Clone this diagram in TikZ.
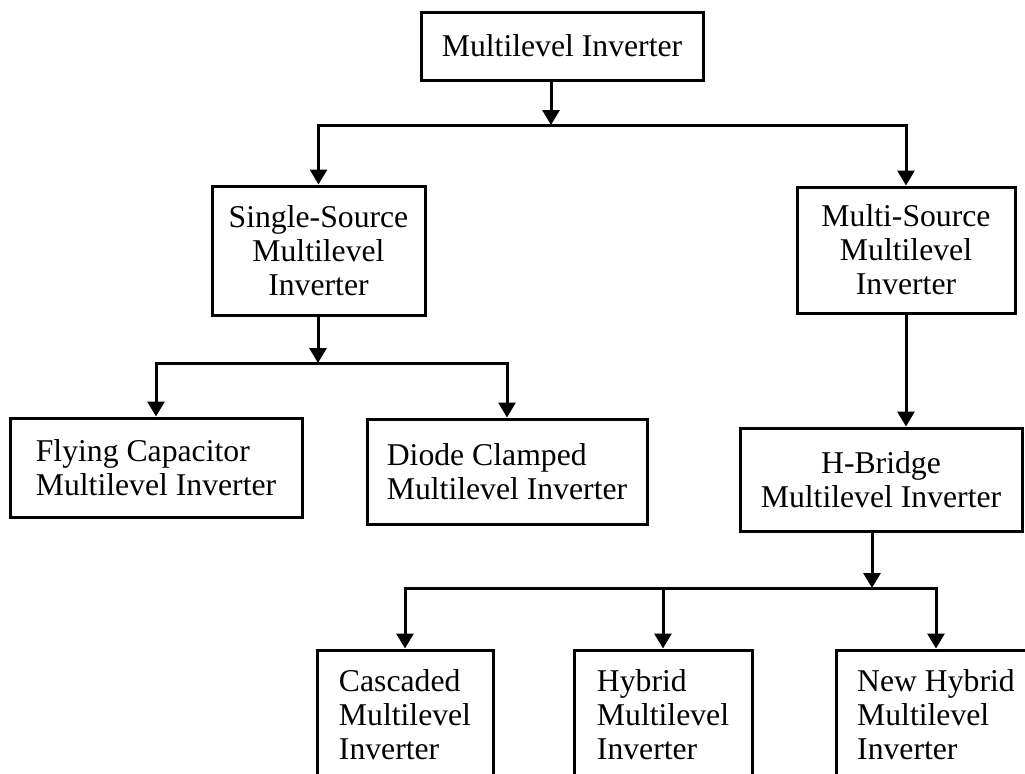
\documentclass[tikz,border=0pt]{standalone}
\usepackage{fontspec}
\setmainfont{Liberation Serif}
\usetikzlibrary{arrows.meta}

\begin{document}
\begin{tikzpicture}[x=0.5pt,y=-0.5pt,
  box/.style={draw,line width=1.5pt,inner sep=0pt,font=\fontsize{15.85}{17}\selectfont},
  arr/.style={line width=1.5pt,-{Triangle[length=7.5pt,width=8.5pt]}}]
  \useasboundingbox (0,0) rectangle (1025,773);
  \clip (0,0) rectangle (1025,773);
  % top level
  \node[box,minimum width=141pt,minimum height=34pt] (mli) at (562,46) {Multilevel Inverter};
  \node[box,align=center,minimum width=106.5pt,minimum height=64.5pt] (ss) at (318.5,250.5) {Single-Source\\Multilevel\\Inverter};
  \node[box,align=center,minimum width=109pt,minimum height=63pt] (ms) at (906,250) {Multi-Source\\Multilevel\\Inverter};
  % second level
  \node[box,align=left,minimum width=146pt,minimum height=49.5pt] (fc) at (156,467.5) {Flying Capacitor\\Multilevel Inverter};
  \node[box,align=left,minimum width=140pt,minimum height=52.5pt] (dc) at (507,471.5) {Diode Clamped\\Multilevel Inverter};
  \node[box,align=center,minimum width=141pt,minimum height=51.5pt] (hb) at (881,479.5) {H-Bridge\\Multilevel Inverter};
  % third level
  \node[box,align=left,minimum width=88pt,minimum height=65pt] (cas) at (405,715) {Cascaded\\Multilevel\\Inverter};
  \node[box,align=left,minimum width=89pt,minimum height=65pt] (hy) at (663,715) {Hybrid\\Multilevel\\Inverter};
  \node[box,align=left,minimum width=100pt,minimum height=65pt] (nh) at (936,715) {New Hybrid\\Multilevel\\Inverter};
  % junctions
  \coordinate (j1) at (551,125);
  \coordinate (j2) at (318,363);
  \coordinate (j3) at (872,588);
  % connectors
  \draw[arr] (mli.south -| j1) -- (j1);
  \draw[arr] (j1) -| (ss.north);
  \draw[arr] (j1) -| (ms.north);
  \draw[arr] (ss.south -| j2) -- (j2);
  \draw[arr] (j2) -| (fc.north);
  \draw[arr] (j2) -| (dc.north);
  \draw[arr] (ms.south) -- (ms.south |- hb.north);
  \draw[arr] (hb.south -| j3) -- (j3);
  \draw[arr] (j3) -| (cas.north);
  \draw[arr] (j3) -| (nh.north);
  \draw[arr] (hy.north |- j3) -- (hy.north);
\end{tikzpicture}
\end{document}
